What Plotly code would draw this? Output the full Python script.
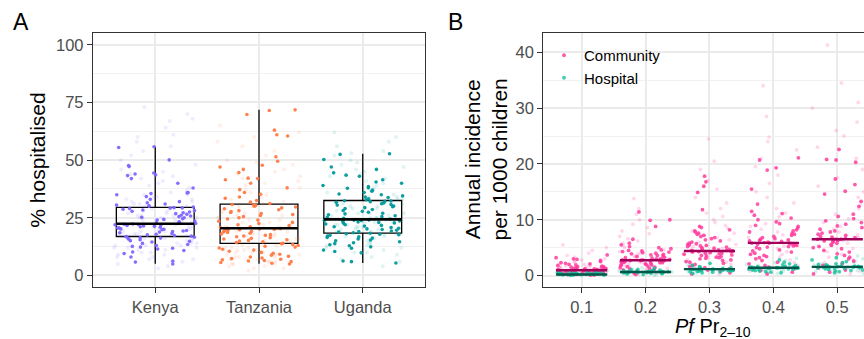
import math
import plotly.graph_objects as go

# ---------------- Panel A data ----------------
COUNTRIES = ["Kenya", "Tanzania", "Uganda"]
COUNTRY_COLORS = ["#7F66FF", "#FF7A45", "#00999C"]

KENYA_PTS = [5.0, 5.8, 6.2, 8.0, 9.5, 10.2, 10.8, 11.5, 11.8, 12.3, 12.6, 13.0, 13.4, 13.9, 14.5, 14.8, 15.1, 15.5, 15.8, 16.0, 16.2, 16.4, 16.6, 16.8, 16.9,
             17.1, 17.3, 17.6, 17.9, 18.2, 18.5, 18.8, 19.0, 19.3, 19.5, 19.8, 20.0, 20.2, 20.5, 20.7, 20.9, 21.1, 21.3, 21.5, 21.7, 21.9, 22.0, 22.1, 22.2, 22.3,
             22.5, 22.8, 23.0, 23.3, 23.6, 24.0, 24.3, 24.6, 25.0, 25.2, 25.5, 25.8, 26.1, 26.5, 26.8, 27.2, 27.5, 27.8, 28.1, 28.4, 28.7, 29.0, 29.2, 29.3, 29.4,
             29.7, 30.0, 30.2, 30.5, 31.0, 31.5, 32.0, 33.0, 34.2, 35.0, 35.5, 35.8, 36.0, 37.9, 40.0, 42.0, 43.3, 43.6, 44.0, 44.4, 47.2, 47.7, 50.1, 55.5, 55.8]
TANZANIA_PTS = [5.0, 5.3, 5.6, 6.0, 6.3, 6.5, 6.8, 7.0, 7.3, 7.6, 8.0, 8.3, 8.8, 9.2, 9.6, 10.0, 10.5, 11.0, 11.4, 11.9, 12.3, 12.7, 13.0, 13.4, 13.7,
                14.0, 14.3, 14.6, 14.9, 15.2, 15.5, 15.8, 16.1, 16.4, 16.8, 17.1, 17.4, 17.7, 18.0, 18.3, 18.6, 18.9, 19.1, 19.4, 19.6, 19.8, 20.0, 20.2, 20.3, 20.4,
                20.7, 21.1, 21.6, 22.0, 22.5, 23.0, 23.5, 24.0, 24.5, 25.0, 25.5, 26.0, 26.4, 26.9, 27.3, 27.7, 28.1, 28.5, 28.9, 29.3, 29.7, 30.0, 30.3, 30.6, 30.8,
                31.2, 31.8, 32.5, 33.5, 34.0, 35.2, 36.0, 37.2, 38.0, 40.0, 41.5, 42.0, 42.2, 44.6, 46.0, 47.0, 47.8, 49.5, 51.5, 60.5, 61.0, 63.0, 69.8, 71.5, 71.8]
UGANDA_PTS = [5.4, 6.0, 6.3, 9.8, 10.4, 11.0, 11.8, 12.4, 12.9, 13.3, 13.8, 14.2, 14.6, 15.0, 15.4, 15.8, 16.2, 16.5, 16.8, 17.1, 17.4, 17.7, 17.9, 18.1, 18.3,
              18.5, 18.8, 19.0, 19.3, 19.6, 19.9, 20.2, 20.5, 20.8, 21.1, 21.4, 21.7, 22.0, 22.3, 22.6, 22.8, 23.0, 23.2, 23.4, 23.6, 23.8, 23.9, 24.0, 24.1, 24.2,
              24.5, 24.8, 25.1, 25.5, 25.9, 26.3, 26.7, 27.0, 27.4, 27.8, 28.2, 28.6, 29.0, 29.4, 29.8, 30.1, 30.5, 30.8, 31.1, 31.4, 31.7, 32.0, 32.2, 32.3, 32.4,
              32.8, 33.2, 33.8, 34.0, 34.5, 35.0, 35.3, 36.0, 36.5, 37.0, 37.8, 38.0, 38.5, 39.0, 40.0, 40.5, 41.5, 43.0, 43.5, 44.5, 46.0, 47.0, 50.3, 52.5, 52.8]

KENYA_FAINT = [3, 4, 5, 6, 7, 7, 8, 8, 9, 9, 10, 10, 11, 11, 12, 12, 12, 13, 13, 13, 14, 14, 14, 15, 15, 15, 16, 16, 16, 17, 17, 17, 18, 18, 18, 19, 19, 19,
               20, 20, 20, 21, 21, 21, 22, 22, 22, 23, 23, 23, 24, 24, 24, 25, 25, 25, 26, 26, 26, 27, 27, 27, 28, 28, 29, 29, 30, 30, 31, 31, 32, 32, 33, 33,
               34, 34, 35, 35, 36, 37, 38, 39, 40, 41, 42, 43, 44, 45, 46, 48, 50, 52, 54, 56, 58, 60, 61, 64, 67, 68, 70, 73]
TANZANIA_FAINT = [2, 3, 3, 4, 4, 5, 5, 5, 6, 6, 6, 7, 7, 7, 8, 8, 8, 9, 9, 9, 10, 10, 10, 11, 11, 11, 12, 12, 12, 13, 13, 14, 14, 15, 15, 16, 16, 17, 17,
                  18, 18, 19, 19, 20, 20, 21, 21, 22, 22, 23, 23, 24, 24, 25, 25, 26, 26, 27, 27, 28, 28, 29, 30, 30, 31, 32, 33, 34, 35, 36, 37, 38, 39,
                  40, 41, 42, 43, 44, 45, 46, 48, 49, 50, 52, 54, 56, 58, 60, 62, 65]
UGANDA_FAINT = [4, 6, 7, 8, 9, 10, 10, 11, 11, 12, 12, 13, 13, 14, 14, 15, 15, 16, 16, 17, 17, 18, 18, 18, 19, 19, 19, 20, 20, 20, 21, 21, 21, 22, 22, 22,
                23, 23, 23, 24, 24, 24, 25, 25, 25, 26, 26, 26, 27, 27, 27, 28, 28, 29, 29, 30, 30, 31, 31, 32, 32, 33, 33, 34, 34, 35, 36, 37, 38, 39,
                40, 41, 42, 43, 44, 45, 46, 47, 48, 49, 50, 52, 53, 54, 56, 58, 60, 62]

BOX_Q1 = [16.9, 13.9, 18.4]
BOX_MED = [22.4, 20.5, 24.3]
BOX_Q3 = [29.5, 30.9, 32.5]
BOX_LO = [5.1, 5.1, 5.4]
BOX_HI = [55.8, 71.8, 52.8]

# ---------------- Panel B data ----------------
PFPR = [0.1, 0.2, 0.3, 0.4, 0.5]
COMMUNITY = [
    [0.1, 0.1, 0.2, 0.2, 0.3, 0.3, 0.4, 0.4, 0.5, 0.5, 0.5, 0.6, 0.6, 0.6, 0.7, 0.7, 0.7, 0.8, 0.8, 0.8, 0.9, 0.9, 0.9, 0.9, 1.0, 1.0, 1.0, 1.0,
     1.1, 1.1, 1.1, 1.2, 1.2, 1.2, 1.3, 1.3, 1.4, 1.4, 1.5, 1.5, 1.6, 1.6, 1.7, 1.8, 1.9, 2.0, 2.1, 2.2, 2.3, 2.5, 2.7, 2.9, 3.0, 3.2, 3.7],
    [0.2, 0.4, 0.6, 0.8, 1.0, 1.1, 1.2, 1.3, 1.4, 1.5, 1.6, 1.7, 1.8, 1.9, 2.0, 2.0, 2.1, 2.2, 2.3, 2.3, 2.4, 2.4, 2.5, 2.5, 2.6, 2.6, 2.6, 2.7,
     2.7, 2.7, 2.8, 2.8, 2.9, 2.9, 3.0, 3.0, 3.1, 3.2, 3.3, 3.4, 3.5, 3.6, 3.7, 3.8, 3.9, 4.0, 4.1, 4.2, 4.3, 4.4, 4.5, 4.6, 4.8, 5.0, 5.2, 5.5,
     5.8, 6.5, 8.8, 9.9, 10.0, 11.4],
    [0.3, 0.5, 0.8, 1.0, 1.2, 1.4, 1.6, 1.8, 2.0, 2.2, 2.4, 2.5, 2.7, 2.8, 3.0, 3.1, 3.2, 3.3, 3.4, 3.5, 3.6, 3.7, 3.8, 3.9, 4.0, 4.0, 4.1, 4.2,
     4.3, 4.3, 4.4, 4.4, 4.4, 4.5, 4.5, 4.6, 4.7, 4.8, 4.9, 5.0, 5.1, 5.2, 5.3, 5.4, 5.5, 5.6, 5.7, 5.8, 6.0, 6.2, 6.4, 6.6, 6.8, 7.0, 7.2, 7.4,
     7.6, 7.8, 8.0, 8.2, 8.6, 8.8, 11.8, 14.9, 16.0, 16.8, 17.8],
    [0.3, 0.6, 0.9, 1.2, 1.5, 1.8, 2.1, 2.4, 2.7, 3.0, 3.2, 3.4, 3.6, 3.8, 4.0, 4.2, 4.4, 4.6, 4.8, 5.0, 5.1, 5.2, 5.3, 5.4, 5.5, 5.6, 5.7, 5.7,
     5.8, 5.8, 5.8, 5.9, 6.0, 6.1, 6.2, 6.3, 6.4, 6.5, 6.6, 6.8, 7.0, 7.2, 7.4, 7.6, 7.8, 8.0, 8.2, 8.5, 8.8, 9.0, 9.3, 9.6, 10.0, 10.3, 10.8,
     11.1, 11.5, 12.8, 15.5, 18.9, 19.3, 20.7, 21.1],
    [0.3, 0.6, 1.0, 1.4, 1.8, 2.2, 2.6, 3.0, 3.3, 3.6, 3.9, 4.2, 4.5, 4.8, 5.0, 5.2, 5.4, 5.6, 5.8, 6.0, 6.1, 6.2, 6.3, 6.4, 6.4, 6.5, 6.5, 6.5,
     6.6, 6.7, 6.8, 6.9, 7.0, 7.2, 7.4, 7.6, 7.8, 8.0, 8.3, 8.6, 8.9, 9.2, 9.5, 9.8, 10.2, 10.6, 11.0, 12.4, 13.3, 14.6, 15.1, 16.3, 17.3, 20.3,
     20.7, 20.8, 22.6],
]
COMMUNITY_FAINT = [
    [0.1, 0.2, 0.3, 0.4, 0.5, 0.6, 0.7, 0.8, 0.9, 1.0, 1.0, 1.1, 1.2, 1.3, 1.4, 1.5, 1.6, 1.7, 1.8, 1.9, 2.0, 2.2, 2.4, 2.6, 2.8, 3.0, 3.3, 3.6,
     4.0, 4.5, 5.0, 5.5],
    [0.2, 0.5, 0.8, 1.0, 1.3, 1.6, 1.9, 2.1, 2.3, 2.5, 2.7, 2.9, 3.1, 3.3, 3.5, 3.8, 4.0, 4.3, 4.6, 5.0, 5.4, 5.8, 6.2, 6.6, 7.0, 7.5, 8.0, 8.6,
     9.2, 10.0, 11.0, 12.0, 13.8],
    [0.3, 0.7, 1.1, 1.5, 2.0, 2.4, 2.8, 3.2, 3.6, 4.0, 4.4, 4.8, 5.2, 5.6, 6.0, 6.4, 6.8, 7.2, 7.6, 8.0, 8.5, 9.0, 9.5, 10.0, 10.6, 11.2, 12.0,
     13.0, 14.0, 15.5, 17.0, 19.0, 20.5, 24.5],
    [0.3, 0.8, 1.3, 1.8, 2.3, 2.8, 3.3, 3.8, 4.3, 4.8, 5.3, 5.8, 6.3, 6.8, 7.3, 7.8, 8.3, 8.8, 9.3, 9.8, 10.5, 11.2, 12.0, 13.0, 14.0, 15.0, 16.5,
     18.0, 19.5, 21.0, 22.5, 24.0, 24.8, 28.5, 34.0],
    [0.3, 0.8, 1.3, 1.8, 2.3, 2.8, 3.3, 3.8, 4.3, 4.8, 5.3, 5.8, 6.3, 6.8, 7.3, 7.8, 8.3, 8.8, 9.5, 10.2, 11.0, 12.0, 13.0, 14.0, 15.0, 16.0,
     17.5, 19.0, 21.0, 23.0, 25.0, 26.0, 27.5, 30.0, 31.0, 34.5, 41.3],
]
HOSPITAL = [
    [0.05, 0.1, 0.1, 0.15, 0.15, 0.2, 0.2, 0.2, 0.25, 0.25, 0.25, 0.3, 0.3, 0.3, 0.3, 0.35, 0.35, 0.35, 0.4, 0.4, 0.45, 0.45, 0.5, 0.5, 0.55, 0.6, 0.7, 0.8],
    [0.2, 0.3, 0.35, 0.4, 0.45, 0.5, 0.5, 0.55, 0.55, 0.6, 0.6, 0.6, 0.65, 0.65, 0.65, 0.7, 0.7, 0.7, 0.75, 0.75, 0.8, 0.8, 0.85, 0.9, 0.95, 1.0, 1.1, 1.3],
    [0.4, 0.5, 0.6, 0.65, 0.7, 0.75, 0.8, 0.85, 0.9, 0.9, 0.95, 0.95, 1.0, 1.0, 1.0, 1.05, 1.05, 1.1, 1.1, 1.15, 1.2, 1.25, 1.3, 1.4, 1.5, 1.6, 1.8, 2.2],
    [0.5, 0.6, 0.7, 0.8, 0.9, 1.0, 1.05, 1.1, 1.15, 1.2, 1.2, 1.25, 1.3, 1.3, 1.3, 1.35, 1.4, 1.4, 1.45, 1.5, 1.55, 1.6, 1.7, 1.8, 1.9, 2.1, 2.4, 2.8],
    [0.5, 0.7, 0.8, 0.9, 1.0, 1.1, 1.2, 1.25, 1.3, 1.35, 1.4, 1.45, 1.5, 1.5, 1.5, 1.55, 1.6, 1.65, 1.7, 1.75, 1.8, 1.9, 2.0, 2.1, 2.3, 2.5, 2.8, 3.2],
]
HOSPITAL_FAINT = [
    [0.0, 0.1, 0.15, 0.2, 0.25, 0.3, 0.3, 0.35, 0.4, 0.45, 0.5, 0.6, 0.7, 0.9, 1.1],
    [0.1, 0.3, 0.4, 0.5, 0.55, 0.6, 0.65, 0.7, 0.75, 0.8, 0.9, 1.0, 1.2, 1.4, 1.7],
    [0.3, 0.5, 0.7, 0.8, 0.9, 1.0, 1.05, 1.1, 1.2, 1.3, 1.4, 1.6, 1.8, 2.1, 2.5],
    [0.4, 0.6, 0.8, 1.0, 1.1, 1.2, 1.3, 1.4, 1.5, 1.6, 1.8, 2.0, 2.3, 2.7, 3.1],
    [0.4, 0.7, 0.9, 1.1, 1.3, 1.4, 1.5, 1.6, 1.7, 1.9, 2.1, 2.3, 2.6, 3.0, 3.5],
]
COMMUNITY_MED = [0.95, 2.74, 4.4, 5.85, 6.5]
HOSPITAL_MED = [0.2, 0.65, 1.15, 1.4, 1.55]

PINK = "#FF3C9E"
PINK_DARK = "#A0005A"
TEAL = "#16C09C"
TEAL_DARK = "#00574A"

FONT = "Liberation Sans, Arial, sans-serif"
W, H = 864, 339


def spread(n, half, seed=0.0):
    # deterministic hash-based horizontal placement (jitter position only, not data)
    out = []
    for i in range(n):
        h = math.sin((i + 1) * 12.9898 + seed * 78.233) * 43758.5453
        out.append(((h - math.floor(h)) - 0.5) * 2 * half)
    return out


fig = go.Figure()

# ---- Panel A ----
solid = [KENYA_PTS, TANZANIA_PTS, UGANDA_PTS]
faint = [KENYA_FAINT, TANZANIA_FAINT, UGANDA_FAINT]
for k, (name, col) in enumerate(zip(COUNTRIES, COUNTRY_COLORS)):
    vals = faint[k]
    xs = [k + 1 + d for d in spread(len(vals), 0.4, 1.31 * k + 0.17)]
    fig.add_trace(go.Scatter(x=xs, y=vals, mode="markers", xaxis="x", yaxis="y", showlegend=False,
                             marker=dict(color=col, size=4, opacity=0.12, line=dict(width=0)), hoverinfo="skip"))
for k, (name, col) in enumerate(zip(COUNTRIES, COUNTRY_COLORS)):
    vals = solid[k]
    xs = [k + 1 + d for d in spread(len(vals), 0.39, 2.53 * k + 0.9)]
    fig.add_trace(go.Scatter(x=xs, y=vals, mode="markers", xaxis="x", yaxis="y", showlegend=False, name=name,
                             marker=dict(color=col, size=3.6, opacity=0.95, line=dict(width=0))))

fig.add_trace(go.Box(x=[1, 2, 3], q1=BOX_Q1, median=BOX_MED, q3=BOX_Q3, lowerfence=BOX_LO, upperfence=BOX_HI,
                     width=0.75, whiskerwidth=0, fillcolor="rgba(0,0,0,0)", line=dict(color="#000000", width=1.3),
                     xaxis="x", yaxis="y", showlegend=False, boxpoints=False))
mx, my = [], []
for k, m in enumerate(BOX_MED):
    mx += [k + 1 - 0.375, k + 1 + 0.375, None]
    my += [m, m, None]
fig.add_trace(go.Scatter(x=mx, y=my, mode="lines", line=dict(color="#000000", width=2.6),
                         xaxis="x", yaxis="y", showlegend=False, hoverinfo="skip"))


# ---- Panel B ----
def group_xy(lists, half, seed):
    xs, ys = [], []
    for j, (g, vals) in enumerate(zip(PFPR, lists)):
        xs += [g + d for d in spread(len(vals), half, seed + j * 3.7)]
        ys += vals
    return xs, ys


x, y = group_xy(COMMUNITY_FAINT, 0.042, 0.11)
fig.add_trace(go.Scatter(x=x, y=y, mode="markers", xaxis="x2", yaxis="y2", showlegend=False,
                         marker=dict(color=PINK, size=3.8, opacity=0.2, line=dict(width=0)), hoverinfo="skip"))
x, y = group_xy(HOSPITAL_FAINT, 0.042, 0.53)
fig.add_trace(go.Scatter(x=x, y=y, mode="markers", xaxis="x2", yaxis="y2", showlegend=False,
                         marker=dict(color=TEAL, size=3.8, opacity=0.2, line=dict(width=0)), hoverinfo="skip"))
x, y = group_xy(COMMUNITY, 0.04, 0.37)
fig.add_trace(go.Scatter(x=x, y=y, mode="markers", xaxis="x2", yaxis="y2", name="Community",
                         marker=dict(color=PINK, size=3.8, opacity=0.85, line=dict(width=0))))
x, y = group_xy(HOSPITAL, 0.04, 0.71)
fig.add_trace(go.Scatter(x=x, y=y, mode="markers", xaxis="x2", yaxis="y2", name="Hospital",
                         marker=dict(color=TEAL, size=3.8, opacity=0.8, line=dict(width=0))))

for meds, col in ((COMMUNITY_MED, PINK_DARK), (HOSPITAL_MED, TEAL_DARK)):
    lx, ly = [], []
    for g, m in zip(PFPR, meds):
        lx += [g - 0.04, g + 0.04, None]
        ly += [m, m, None]
    fig.add_trace(go.Scatter(x=lx, y=ly, mode="lines", line=dict(color=col, width=2.4),
                             xaxis="x2", yaxis="y2", showlegend=False, hoverinfo="skip"))

# ---- Layout ----
axis_common = dict(showgrid=True, gridcolor="#EBEBEB", gridwidth=1.7, zeroline=False,
                   showline=True, linecolor="#333333", linewidth=1.3,
                   ticks="outside", ticklen=5, tickwidth=1.2, tickcolor="#333333",
                   tickfont=dict(family=FONT, size=16.5, color="#4D4D4D"))
ytop = 1 - 33.3 / H
ybot = 1 - 287 / H

fig.update_layout(
    width=W, height=H, margin=dict(l=0, r=0, t=0, b=0),
    paper_bgcolor="white", plot_bgcolor="white",
    font=dict(family=FONT, color="#000000"),
    xaxis=dict(axis_common, domain=[93 / W, 425 / W], range=[0.4, 3.6], tickvals=[1, 2, 3], ticktext=COUNTRIES,
               mirror=True),
    yaxis=dict(axis_common, domain=[ybot, ytop], range=[-5, 105], tickvals=[0, 25, 50, 75, 100], mirror=True,
               minor=dict(dtick=12.5, tick0=0, showgrid=True, gridcolor="#F2F2F2", gridwidth=0.9, ticks="")),
    xaxis2=dict(axis_common, domain=[543.3 / W, 1.0], range=[0.04, 0.5418], tickvals=PFPR,
                ticktext=["0.1", "0.2", "0.3", "0.4", "0.5"], mirror=True, anchor="y2"),
    yaxis2=dict(axis_common, domain=[ybot, ytop], range=[-2.05, 43.4], tickvals=[0, 10, 20, 30, 40], anchor="x2",
                mirror=False,
                minor=dict(dtick=5, tick0=0, showgrid=True, gridcolor="#F2F2F2", gridwidth=0.9, ticks="")),
    legend=dict(x=544 / W, y=1 - 39 / H, xanchor="left", yanchor="top", bgcolor="rgba(0,0,0,0)",
                font=dict(family=FONT, size=15, color="#000000"), tracegroupgap=0),
    annotations=[
        dict(text="A", x=20.5 / W, y=1 - 22 / H, xref="paper", yref="paper", showarrow=False,
             font=dict(family=FONT, size=23, color="#000000"), xanchor="center", yanchor="middle"),
        dict(text="B", x=455.6 / W, y=1 - 22 / H, xref="paper", yref="paper", showarrow=False,
             font=dict(family=FONT, size=23, color="#000000"), xanchor="center", yanchor="middle"),
        dict(text="% hospitalised", x=36.7 / W, y=1 - 160 / H, xref="paper", yref="paper", showarrow=False,
             textangle=-90, font=dict(family=FONT, size=21, color="#000000"), xanchor="center", yanchor="middle"),
        dict(text="Annual incidence<br>per 1000 children", x=485.5 / W, y=1 - 160 / H, xref="paper", yref="paper",
             showarrow=False, textangle=-90, font=dict(family=FONT, size=21, color="#000000"),
             xanchor="center", yanchor="middle"),
        dict(text="<i>Pf</i> Pr<sub>2\u201310</sub>", x=713 / W, y=0, xref="paper", yref="paper", yshift=-2,
             showarrow=False, font=dict(family=FONT, size=20, color="#000000"), xanchor="center", yanchor="bottom",
             borderpad=0),
    ],
)

fig.write_html("out.html")
